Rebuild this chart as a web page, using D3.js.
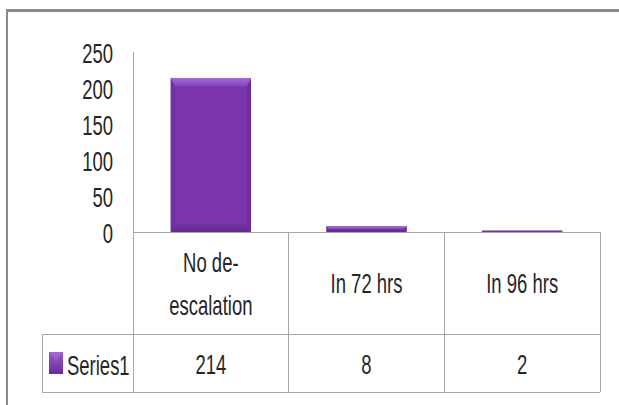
<!DOCTYPE html>
<html>
<head>
<meta charset="utf-8">
<script src="https://cdn.jsdelivr.net/npm/d3@7/dist/d3.min.js"></script>
<style>
  html, body { margin: 0; padding: 0; background: #fff; }
  svg { display: block; }
  text { font-family: "Liberation Sans", Arial, sans-serif; fill: #262626; }
</style>
</head>
<body>
<svg id="chart" width="619" height="405"></svg>
<script>
// Chart data
const categories = ["No de-escalation", "In 72 hrs", "In 96 hrs"];
const categoryLines = [["No de-", "escalation"], ["In 72 hrs"], ["In 96 hrs"]];
const seriesName = "Series1";
const seriesValues = [214, 8, 2];
const yTicks = [0, 50, 100, 150, 200, 250];

const svg = d3.select("#chart");
const FONT = 28, SX = 0.66;      // condensed label look
const gridColor = "#a6a6a6";

// Plot geometry
const plot = { left: 133, right: 600, top: 52, zero: 232 };
const table = { legendLeft: 42, row1: 334, row2: 392 };

const y = d3.scaleLinear().domain([0, 250]).range([plot.zero, plot.top]);
const col = d3.scaleBand().domain(categories).range([plot.left, plot.right]).padding(0);
const barW = col.bandwidth() * 0.515;

// Outer chart frame (top and left edges)
svg.append("line").attr("x1", 6).attr("x2", 619).attr("y1", 10.5).attr("y2", 10.5)
  .attr("stroke", "#8a8a8a").attr("stroke-width", 3);
svg.append("line").attr("x1", 7).attr("x2", 7).attr("y1", 9).attr("y2", 405)
  .attr("stroke", "#8a8a8a").attr("stroke-width", 2);

// Gradients for the bevelled bars
const defs = svg.append("defs");
const gTop = defs.append("linearGradient").attr("id", "bevTop").attr("x1", 0).attr("y1", 0).attr("x2", 0).attr("y2", 1);
gTop.append("stop").attr("offset", "0%").attr("stop-color", "#a46ad6");
gTop.append("stop").attr("offset", "100%").attr("stop-color", "#8745bb");
const gBot = defs.append("linearGradient").attr("id", "bevBot").attr("x1", 0).attr("y1", 0).attr("x2", 0).attr("y2", 1);
gBot.append("stop").attr("offset", "0%").attr("stop-color", "#7232a3");
gBot.append("stop").attr("offset", "100%").attr("stop-color", "#652893");
const gLeg = defs.append("linearGradient").attr("id", "legFill").attr("x1", 0).attr("y1", 0).attr("x2", 0).attr("y2", 1);
gLeg.append("stop").attr("offset", "0%").attr("stop-color", "#9a5ccc");
gLeg.append("stop").attr("offset", "100%").attr("stop-color", "#6a2a98");

// Bars
const bars = svg.append("g").selectAll("g").data(seriesValues).join("g");
bars.each(function (v, i) {
  const g = d3.select(this);
  const x0 = col(categories[i]) + (col.bandwidth() - barW) / 2;
  const x1 = x0 + barW;
  const yt = y(v), yb = y(0);
  const h = yb - yt;
  const b = Math.min(8, h / 2), bs = Math.min(4, h / 2);
  g.append("rect").attr("x", x0).attr("y", yt).attr("width", barW).attr("height", h).attr("fill", "#7a35ab");
  // side bevels
  g.append("polygon").attr("points", [[x0, yt], [x0 + bs, yt + b], [x0 + bs, yb - b], [x0, yb]].join(" ")).attr("fill", "#7030a0");
  g.append("polygon").attr("points", [[x1, yt], [x1 - bs, yt + b], [x1 - bs, yb - b], [x1, yb]].join(" ")).attr("fill", "#6d2d9c");
  // top and bottom bevels
  g.append("polygon").attr("points", [[x0, yt], [x1, yt], [x1 - bs, yt + b], [x0 + bs, yt + b]].join(" ")).attr("fill", "url(#bevTop)");
  g.append("polygon").attr("points", [[x0, yb], [x1, yb], [x1 - bs, yb - b], [x0 + bs, yb - b]].join(" ")).attr("fill", "url(#bevBot)");
});

// Y axis labels
const yAxis = svg.append("g").attr("transform", `translate(${plot.left},0)`)
  .call(d3.axisLeft(y).tickValues(yTicks).tickSize(0).tickPadding(20).tickFormat(d3.format("d")));
yAxis.select(".domain").remove();
yAxis.selectAll("text")
  .attr("x", 0).attr("dy", "0.36em")
  .attr("transform", `translate(-20,0) scale(${SX},1)`)
  .style("font-size", FONT + "px").style("font-family", "'Liberation Sans', Arial, sans-serif")
  .attr("fill", "#262626");

// Data table grid
const grid = svg.append("g").attr("stroke", gridColor).attr("stroke-width", 1).attr("shape-rendering", "crispEdges");
grid.append("line").attr("x1", plot.left).attr("x2", plot.left).attr("y1", plot.top).attr("y2", table.row2);
grid.append("line").attr("x1", plot.left).attr("x2", plot.right).attr("y1", plot.zero).attr("y2", plot.zero);
[table.row1, table.row2].forEach(yy =>
  grid.append("line").attr("x1", table.legendLeft).attr("x2", plot.right).attr("y1", yy).attr("y2", yy));
grid.append("line").attr("x1", table.legendLeft).attr("x2", table.legendLeft).attr("y1", table.row1).attr("y2", table.row2);
categories.forEach(c => {
  const xr = col(c) + col.bandwidth();
  grid.append("line").attr("x1", xr).attr("x2", xr).attr("y1", plot.zero).attr("y2", table.row2);
});

function label(x, yBase, str, anchor) {
  svg.append("g").attr("transform", `translate(${x},${yBase})`)
    .append("text").attr("text-anchor", anchor || "middle")
    .attr("transform", `scale(${SX},1)`)
    .style("font-size", FONT + "px").text(str);
}

// Category header cells
const row1Mid = (plot.zero + table.row1) / 2;
const lineGap = 43, capHalf = 10;
categories.forEach((c, i) => {
  const cx = col(c) + col.bandwidth() / 2;
  const lines = categoryLines[i];
  lines.forEach((ln, k) => {
    const off = (k - (lines.length - 1) / 2) * lineGap;
    label(cx, row1Mid + off + capHalf, ln);
  });
});

// Value cells
const row2Mid = (table.row1 + table.row2) / 2;
seriesValues.forEach((v, i) => {
  label(col(categories[i]) + col.bandwidth() / 2, row2Mid + capHalf + 1, String(v));
});

// Legend cell
svg.append("rect").attr("x", 49).attr("y", row2Mid - 11).attr("width", 14).attr("height", 22).attr("fill", "url(#legFill)");
svg.append("polygon").attr("points", [[49, row2Mid - 11], [63, row2Mid - 11], [56, row2Mid - 3]].join(" ")).attr("fill", "#a56cd6").attr("opacity", 0.7);
label(67, row2Mid + capHalf + 2, seriesName, "start");
</script>
</body>
</html>
